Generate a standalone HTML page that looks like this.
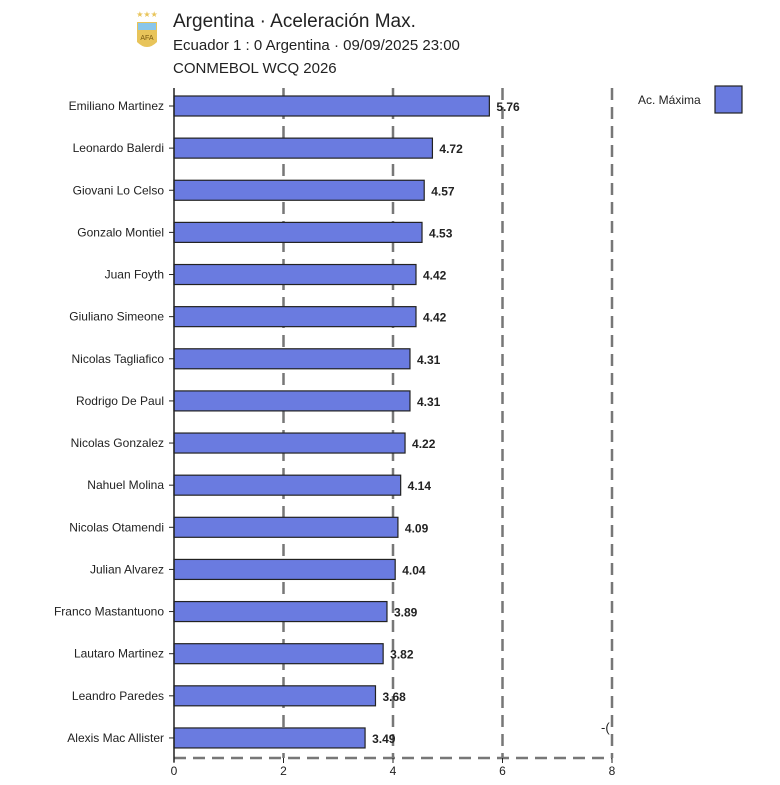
<!DOCTYPE html>
<html><head><meta charset="utf-8"><style>
body{margin:0;background:#fff;font-family:"Liberation Sans",Arial,sans-serif}
</style></head><body>
<svg id="c" width="780" height="780" xmlns="http://www.w3.org/2000/svg" font-family="Liberation Sans, Arial, sans-serif">
<g>
<path d="M137 22 h20 v20 q-10 10 -20 0 z" fill="#e8c45a"/>
<rect x="138" y="23" width="18" height="7" fill="#8ac6ea"/>
<text x="147" y="40" font-size="7" text-anchor="middle" fill="#7a5a10">AFA</text>
<text x="147" y="17" font-size="8" text-anchor="middle" fill="#e8c45a">★★★</text>
</g>
<text x="173" y="27" font-size="19" fill="#222">Argentina · Aceleración Max.</text>
<text x="173" y="50" font-size="15" fill="#222">Ecuador 1 : 0 Argentina · 09/09/2025 23:00</text>
<text x="173" y="73" font-size="15" fill="#222">CONMEBOL WCQ 2026</text>
<g id="grid"></g><g id="bars"></g><g id="axis"></g>
<text x="601" y="732" font-size="13" fill="#222">-(</text>
<g>
<text x="638" y="104" font-size="12" fill="#222">Ac. Máxima</text>
<rect x="715" y="86" width="27" height="27" fill="#6a7be0" stroke="#222" stroke-width="1.2"/>
</g>
</svg>
<script>
const players=["Emiliano Martinez","Leonardo Balerdi","Giovani Lo Celso","Gonzalo Montiel","Juan Foyth","Giuliano Simeone","Nicolas Tagliafico","Rodrigo De Paul","Nicolas Gonzalez","Nahuel Molina","Nicolas Otamendi","Julian Alvarez","Franco Mastantuono","Lautaro Martinez","Leandro Paredes","Alexis Mac Allister"];
const values=[5.76,4.72,4.57,4.53,4.42,4.42,4.31,4.31,4.22,4.14,4.09,4.04,3.89,3.82,3.68,3.49];
const ticks=[0,2,4,6,8];
const NS="http://www.w3.org/2000/svg";
const x=v=>174+v*54.75;
const y=i=>106+i*42.13;
function mk(t,a,p){const e=document.createElementNS(NS,t);for(const k in a)e.setAttribute(k,a[k]);p.appendChild(e);return e;}
const grid=document.getElementById('grid'),bars=document.getElementById('bars'),axis=document.getElementById('axis');
ticks.forEach(t=>{
 if(t>0){const l=mk('line',{x1:x(t),x2:x(t),y1:88,y2:758,stroke:'#777','stroke-width':2.5,'stroke-dasharray':'12,7'},grid);
 
 }
 const tk=mk('line',{x1:x(t),x2:x(t),y1:758,y2:763,stroke:'#222'},axis);
 
 
 const tx=mk('text',{x:x(t),y:775,'font-size':12,'text-anchor':'middle',fill:'#222'},axis);tx.textContent=t;
 
 
});
const bl=mk('line',{x1:174,x2:x(8),y1:758,y2:758,stroke:'#777','stroke-width':2.5,'stroke-dasharray':'12,7'},grid);


const yl=mk('line',{x1:174,x2:174,y1:88,y2:762,stroke:'#222','stroke-width':1.5},axis);


players.forEach((p,i)=>{
 const cy=y(i);
 const r=mk('rect',{x:174,y:cy-10,width:x(values[i])-174,height:20,fill:'#6a7be0',stroke:'#222','stroke-width':1.2},bars);
 
 
 const v=mk('text',{x:x(values[i])+7,y:cy+5,'font-size':12,'font-weight':'bold',fill:'#222'},bars);v.textContent=values[i].toFixed(2);
 
 
 const tk=mk('line',{x1:169,x2:174,y1:cy,y2:cy,stroke:'#222'},axis);
 
 
 const l=mk('text',{x:164,y:cy+4,'font-size':12,'text-anchor':'end',fill:'#222'},axis);l.textContent=p;
 
 
});
</script>
</body></html>
